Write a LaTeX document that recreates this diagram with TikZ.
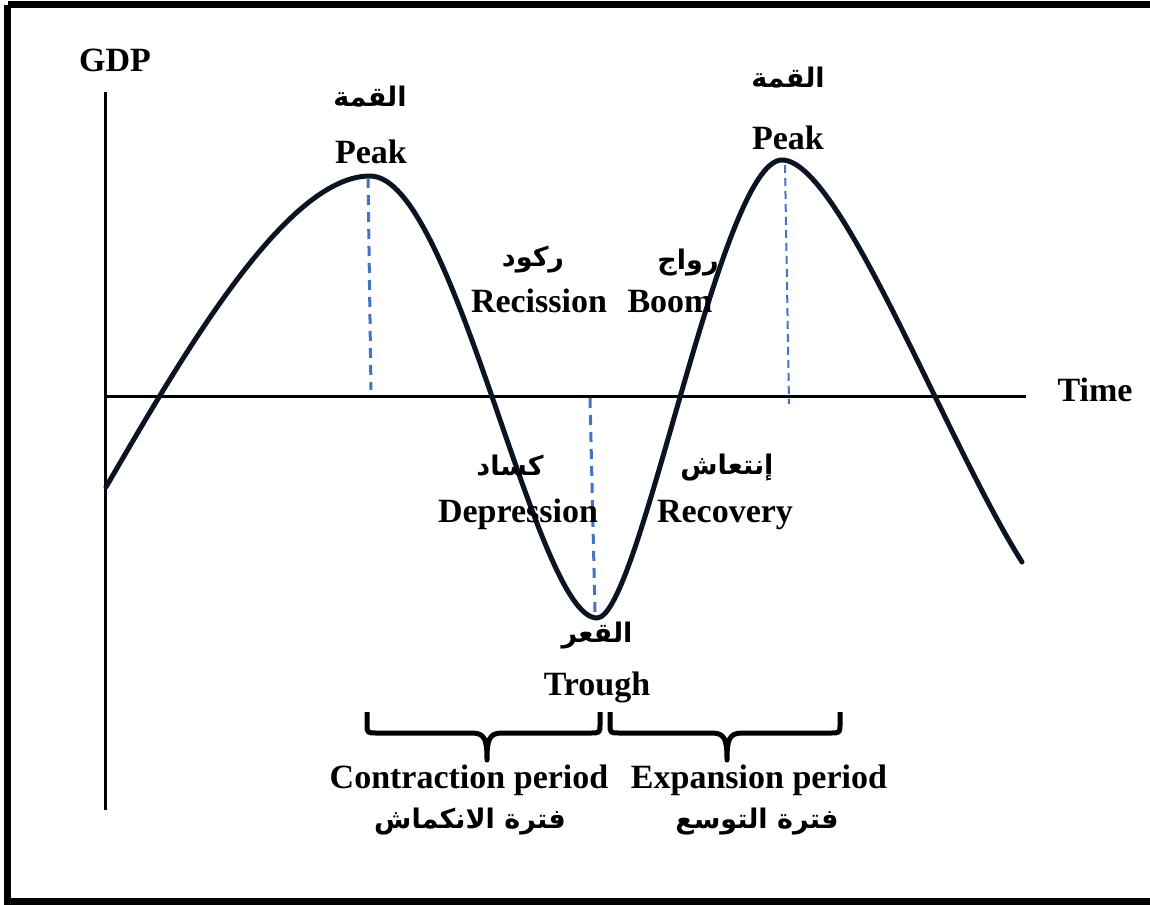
\documentclass[tikz,border=0pt]{standalone}
\usepackage{fontspec}
\setmainfont{Liberation Serif}
\newfontfamily\arabicfont[Script=Arabic]{DejaVu Sans}
\TeXXeTstate=1
\definecolor{curvecol}{HTML}{0C1423}
\definecolor{dashblue}{HTML}{4472C4}
\begin{document}
\begin{tikzpicture}[x=1pt,y=-1pt,
  en/.style={font=\fontsize{34}{40}\selectfont\bfseries, anchor=base, inner sep=0pt},
  ar/.style={font=\fontsize{27}{32}\selectfont\arabicfont\bfseries, anchor=center, inner sep=0pt},
  axisline/.style={line width=3pt, black},
  cyc/.style={line width=5pt, curvecol, line cap=round},
  dashA/.style={line width=3pt, dashblue, dash pattern=on 10pt off 7pt},
  dashB/.style={line width=2pt, dashblue, dash pattern=on 8pt off 5pt},
  bracestyle/.style={line width=5pt, black, line join=round}]
\useasboundingbox (0,0) rectangle (1150,904);
\begin{scope}
\clip (0,0) rectangle (1150,904);
\draw[line width=7pt] (7.5,5) -- (1200,5);
\draw[line width=7pt] (7.5,5) -- (7.5,901);
\draw[line width=7pt] (4,901) -- (1200,901);
\end{scope}
% axes
\coordinate (yb) at (105,810);
\coordinate (yt) at (105,92);
\coordinate (xl) at (104,396);
\coordinate (xr) at (1026,396);
\draw[axisline] (yb) -- (yt);
\draw[axisline] (xl) -- (xr);
\node[en] (gdp) at (115,72) {GDP};
\node[en] (time) at (1095,401) {Time};
% cycle curve
\coordinate (c0) at (106,487);
\coordinate (p1) at (370,176);
\coordinate (tr) at (597,618);
\coordinate (p2) at (782,160);
\coordinate (c4) at (1022,562);
\draw[cyc] (c0) .. controls (180,360) and (285,176) .. (p1)
  .. controls (455,176) and (535,618) .. (tr)
  .. controls (640,618) and (720,160) .. (p2)
  .. controls (840,160) and (944,438) .. (c4);
% dashed lines
\coordinate (d1a) at (368,178); \coordinate (d1b) at (371,390);
\coordinate (d2a) at (590,398); \coordinate (d2b) at (595,612);
\coordinate (d3a) at (785,165); \coordinate (d3b) at (789,404);
\draw[dashA] (d1a) -- (d1b);
\draw[dashA] (d2a) -- (d2b);
\draw[dashB] (d3a) -- (d3b);
% labels
\node[ar] (qimma1) at (370,97) {\beginR القمة\endR};
\node[en] (peak1) at (371,164) {Peak};
\node[ar] (qimma2) at (788,78) {\beginR القمة\endR};
\node[en] (peak2) at (788,150) {Peak};
\node[ar] (rukud) at (533,260) {\beginR ركود\endR};
\node[en] (rec) at (539,312) {Recission};
\node[ar] (rawaj) at (688,263) {\beginR رواج\endR};
\node[en] (boom) at (670,312) {Boom};
\node[ar] (kasad) at (510,466) {\beginR كساد\endR};
\node[en] (dep) at (518,522) {Depression};
\node[ar] (intiash) at (727,468) {\beginR إنتعاش\endR};
\node[en] (recov) at (725,522) {Recovery};
\node[ar] (qaar) at (597,636) {\beginR القعر\endR};
\node[en] (trough) at (597,695) {Trough};
% braces
\draw[bracestyle] (367,712) -- (367,724) .. controls (367,733) .. (377,733)
  -- (472,733) .. controls (485,733) and (487,740) .. (487,760)
  .. controls (487,740) and (489,733) .. (502,733) -- (590,733)
  .. controls (600,733) .. (600,724) -- (600,712);
\draw[bracestyle] (610,712) -- (610,724) .. controls (610,733) .. (620,733)
  -- (712,733) .. controls (725,733) and (727,740) .. (727,760)
  .. controls (727,740) and (729,733) .. (742,733) -- (830,733)
  .. controls (840,733) .. (840,724) -- (840,712);
\node[en] (contr) at (469,788) {Contraction period};
\node[en] (expan) at (759,788) {Expansion period};
\node[ar] (contrar) at (470,822) {\beginR فترة الانكماش\endR};
\node[ar] (expanar) at (757,822) {\beginR فترة التوسع\endR};
\end{tikzpicture}
\end{document}
